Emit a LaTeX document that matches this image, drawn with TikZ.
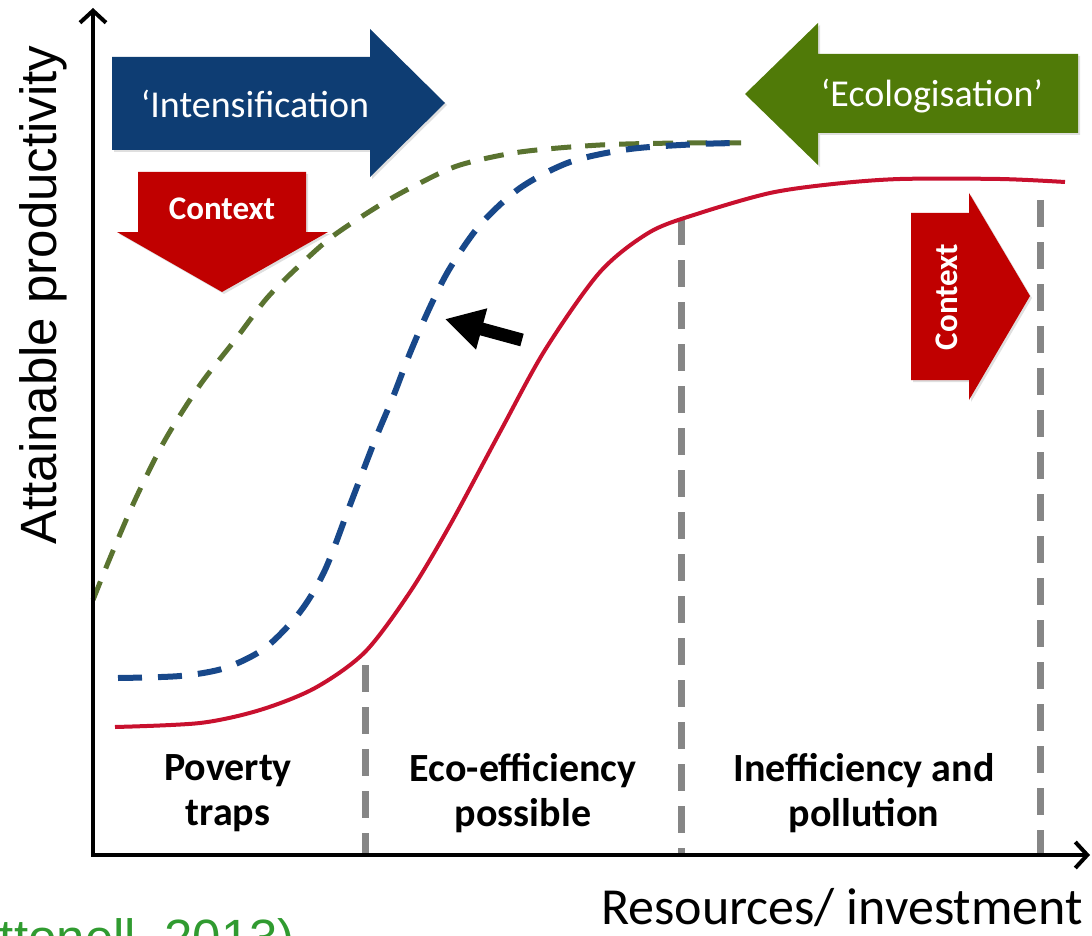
\documentclass[tikz,border=0pt]{standalone}
\usepackage{fontspec}
\setmainfont{Carlito}
\newfontfamily\arialfont{Liberation Sans}
\usetikzlibrary{arrows.meta,shadows}

\definecolor{intblue}{RGB}{14,61,115}
\definecolor{ecogreen}{RGB}{80,122,8}
\definecolor{ctxred}{RGB}{192,0,0}
\definecolor{curvered}{RGB}{200,16,46}
\definecolor{curveblue}{RGB}{24,72,138}
\definecolor{curvegreen}{RGB}{90,115,48}
\definecolor{citegreen}{RGB}{48,155,48}

\tikzset{
  bigarrow/.style={drop shadow={shadow xshift=2pt,shadow yshift=-2pt,opacity=0.25}},
  arrowtext/.style={text=white,inner sep=0pt,anchor=base,font=\fontsize{38}{45}\selectfont},
  ctxtext/.style={text=white,inner sep=0pt,font=\bfseries\fontsize{33}{40}\selectfont},
  zonelabel/.style={align=center,inner sep=0pt,font=\bfseries\fontsize{40}{45}\selectfont},
  sepline/.style={draw=gray!95,line width=7pt,dash pattern=on 27pt off 15pt},
  curveR/.style={curvered,line width=4pt},
  curveB/.style={curveblue,line width=6pt,dash pattern=on 24pt off 16pt},
  curveG/.style={curvegreen,line width=5pt,dash pattern=on 20pt off 14pt},
}

\begin{document}
\begin{tikzpicture}[x=1pt,y=-1pt]
	\useasboundingbox (0,0) rectangle (1092,936);
	\clip (0,0) rectangle (1092,936);
	%\draw[blue!20] (0,0) grid[step=50] (1092,936);

	\draw [sepline] (365,665) -- (365,855);
	\draw [sepline] (681,218) -- (681,855);
	\draw [sepline] (1040,200) -- (1040,855);

	\draw [curveG] plot[smooth] coordinates {(93,600) (110,558) (135,500) (165,440) (200,385) (235,340) (267,298) (300,265) (333,236) (380,205) (420,183) (460,165) (520,152) (600,145) (680,143) (745,143)};
	\draw [curveB] plot[smooth] coordinates {(118,678) (180,676) (225,668) (265,648) (300,612) (325,570) (350,505) (375,440) (393,397) (410,353) (430,307) (450,268) (480,225) (520,188) (570,162) (630,149) (700,144) (745,143)};
	\draw [curveR] plot[smooth] coordinates {(115,727) (200,723) (260,710) (315,688) (365,652) (410,592) (450,525) (500,432) (545,350) (600,272) (650,232) (700,213) (770,193) (833,184) (900,179) (1000,179) (1065,182)};

	\draw [line width=4pt,{Straight Barb[length=12pt,width=26pt]}-{Straight Barb[length=12pt,width=26pt]}] (93,8) -- (93,855) -- (1090,855);

	\fill [intblue,bigarrow] (112,57) -- (370,57) -- (370,29) -- (445,103) -- (370,177) -- (370,150) -- (112,150) -- cycle;
	\fill [ctxred,bigarrow] (138,172) -- (306,172) -- (306,232) -- (328,232) -- (222,292) -- (117,232) -- (138,232) -- cycle;
	\fill [ecogreen,bigarrow] (1078,54) -- (818,54) -- (818,23) -- (745,94) -- (818,165) -- (818,133) -- (1078,133) -- cycle;
	\fill [ctxred,bigarrow] (911,213) -- (969,213) -- (969,193) -- (1030,296) -- (969,400) -- (969,380) -- (911,380) -- cycle;

	\node [arrowtext] (intens) at (255,118) {‘Intensification};
	\node [arrowtext] (ecolog) at (932,107) {‘Ecologisation’};
	\node [ctxtext] (ctxdown) at (222,209) {Context};
	\node [ctxtext,rotate=90] (ctxright) at (947,297) {Context};

	\coordinate (shiftfrom) at (522,340);
	\coordinate (shiftto) at (445,319);
	\draw [line width=13pt,-{Triangle[length=38pt,width=40pt]}] (shiftfrom) -- (shiftto);

	\node [zonelabel] (poverty) at (228,793) {Poverty\\traps};
	\node [zonelabel] (ecoeff) at (523,793) {Eco-efficiency\\possible};
	\node [zonelabel] (ineff) at (864,793) {Inefficiency and\\pollution};

	\node [rotate=90,anchor=base,inner sep=0pt,font=\arialfont\fontsize{51}{60}\selectfont] (ylabel) at (56,295) {Attainable productivity};
	\node [anchor=base east,inner sep=0pt,font=\fontsize{52}{62}\selectfont] (xlabel) at (1083,924) {Resources/ investment};
	\node [anchor=base east,inner sep=0pt,text=citegreen,font=\arialfont\fontsize{51}{60}\selectfont] (cite) at (295,955) {(Tittonell, 2013)};
\end{tikzpicture}
\end{document}
